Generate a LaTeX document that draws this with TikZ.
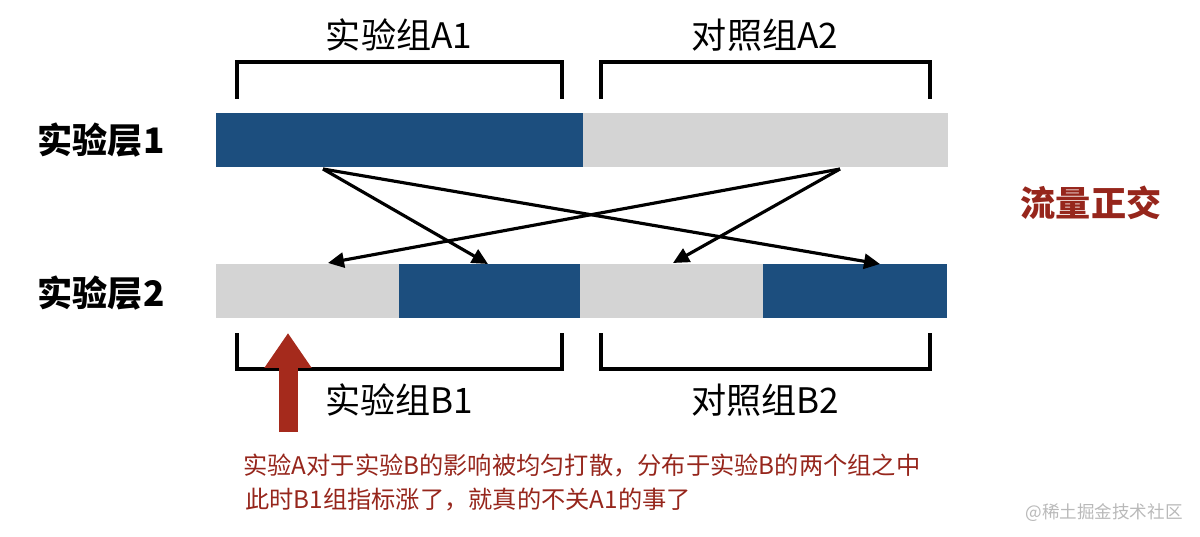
\documentclass[tikz,border=0pt]{standalone}
\usepackage{fontspec}
\usepackage{xcolor}
\usepackage{tikz}
\usetikzlibrary{arrows.meta, positioning}
\setmainfont{Noto Sans CJK SC}
\definecolor{barblue}{RGB}{28,78,126}
\definecolor{bargray}{RGB}{212,212,212}
\definecolor{notered}{RGB}{150,38,28}
\definecolor{arrowred}{RGB}{165,42,28}
\definecolor{markgray}{RGB}{185,185,185}

\begin{document}
\begin{tikzpicture}[>={Triangle[length=0.32cm, width=0.3cm]}, x=0.02cm, y=-0.02cm,
    seg/.style={anchor=north west, inner sep=0pt, outer sep=0pt, minimum height=1.08cm},
    bracket/.style={draw=black, line width=2pt},
    grouplabel/.style={font=\fontsize{20}{24}\selectfont},
    layerlabel/.style={font=\fontsize{20}{24}\selectfont\bfseries},
    flow/.style={->, draw=black, line width=1.8pt}]
    \useasboundingbox (0,0) rectangle (1200,537);

    % Layer 1
    \node[layerlabel] (layer1) at (101,140) {实验层1};
    \node[seg, fill=barblue, minimum width=7.34cm] (l1a) at (216,113) {};
    \node[seg, fill=bargray, minimum width=7.30cm] (l1b) at (583,113) {};

    % Layer 2
    \node[layerlabel] (layer2) at (101,293) {实验层2};
    \node[seg, fill=bargray, minimum width=3.66cm] (l2a) at (216,264) {};
    \node[seg, fill=barblue, minimum width=3.62cm] (l2b) at (399,264) {};
    \node[seg, fill=bargray, minimum width=3.66cm] (l2c) at (580,264) {};
    \node[seg, fill=barblue, minimum width=3.68cm] (l2d) at (763,264) {};

    % Top brackets
    \draw[bracket] (237,99) |- (562,62) -- (562,99);
    \draw[bracket] (601,99) |- (930,62) -- (930,99);
    \node[grouplabel] (gA1) at (399,35) {实验组A1};
    \node[grouplabel] (gA2) at (765,35) {对照组A2};

    % Bottom brackets
    \draw[bracket] (237,333) |- (562,369) -- (562,333);
    \draw[bracket] (601,333) |- (930,369) -- (930,333);
    \node[grouplabel] (gB1) at (399,400) {实验组B1};
    \node[grouplabel] (gB2) at (765,400) {对照组B2};

    % Crossing arrows
    \coordinate (srcA) at (323,169);
    \coordinate (srcB) at (840,169);
    \coordinate (dstA) at (328,263);
    \coordinate (dstB) at (488,264);
    \coordinate (dstC) at (673,263);
    \coordinate (dstD) at (880,264);
    \draw[flow] (srcA) -- (dstB);
    \draw[flow] (srcA) -- (dstD);
    \draw[flow] (srcB) -- (dstA);
    \draw[flow] (srcB) -- (dstC);

    \node[font=\fontsize{20}{24}\selectfont\bfseries, text=notered] (ortho) at (1091,203) {流量正交};

    % Red arrow and note
    \coordinate (upfoot) at (288,432);
    \coordinate (uptip) at (288,333);
    \draw[-{Triangle[length=0.7cm, width=0.9cm]}, draw=arrowred, fill=arrowred, line width=0.38cm] (upfoot) -- (uptip);
    \node[anchor=west, inner sep=0pt, text=notered, font=\fontsize{13.8}{16}\selectfont] (note1) at (243,466) {实验A对于实验B的影响被均匀打散，分布于实验B的两个组之中};
    \node[anchor=west, inner sep=0pt, text=notered, font=\fontsize{13.8}{16}\selectfont] (note2) at (245,500) {此时B1组指标涨了，就真的不关A1的事了};

    \node[anchor=east, inner sep=0pt, text=markgray, font=\fontsize{10}{12}\selectfont] (mark) at (1183,513) {@稀土掘金技术社区};
\end{tikzpicture}
\end{document}
